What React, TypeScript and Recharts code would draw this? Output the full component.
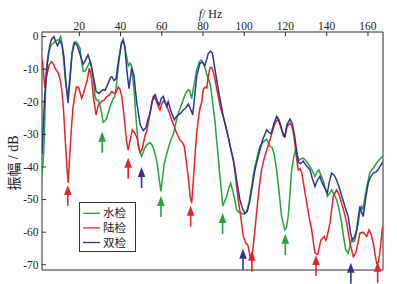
import React from 'react';
import { LineChart, Line, XAxis, YAxis, ReferenceArea, ReferenceDot, Legend, Label } from 'recharts';

const FREQ_DOMAIN: [number, number] = [1.9, 167.3];
const DB_DOMAIN: [number, number] = [-71.6, 1.4];
const freqTicks = [20, 40, 60, 80, 100, 120, 140, 160];
const dbTicks = [0, -10, -20, -30, -40, -50, -60, -70];

const seriesNames = ['水检', '陆检', '双检'];
const seriesColors = ['#22a53c', '#e4232b', '#2c3592'];

// [frequency Hz, amplitude dB]
const water: [number, number][] = [
  [1.9, -43], [2.8, -35], [3.5, -20], [4, -10], [5, -5], [6.4, -2.5], [7.5, -2], [8.8, -1.2], [10, -1], [11, 0],
  [11.8, -3], [12.5, -8], [13.5, -15], [14.5, -18.5], [15.5, -12], [16.5, -5], [17.3, -2], [18, -1.5], [19, -2],
  [20.3, -3.5], [21.2, -8], [21.9, -10.7], [23, -10.5], [23.6, -9.7], [25.2, -7.7], [26, -9.5], [27, -14],
  [27.6, -18.4], [28.3, -19.5], [29.2, -19.5], [30, -21], [30.8, -23.5], [31.6, -26.3], [32.3, -26], [33.3, -25],
  [34.9, -21.5], [36.5, -19], [37.2, -18.5], [38, -15], [38.9, -9.2], [40, -3.5], [40.5, -2], [41.3, -0.8],
  [42.1, -3.5], [42.9, -6], [43.8, -9], [44.6, -8.2], [45.3, -9], [46.5, -16], [47.5, -25], [48.6, -33.7],
  [50.2, -36.8], [51.5, -34.5], [52.7, -33.2], [54.3, -32.5], [55.5, -33.5], [56.7, -35.8], [57.8, -39],
  [58.8, -44], [59.6, -47.5], [60.4, -43], [61.2, -39], [62.4, -36], [63.5, -33.5], [64.5, -31.5], [65.6, -30],
  [66.8, -26.5], [68, -23.5], [69.2, -21.5], [70.4, -19.4], [71.5, -17.5], [72.8, -16.3], [73.5, -16.5],
  [74.5, -19], [75.3, -16], [76.1, -13.3], [76.9, -10.2], [77.8, -8.5], [78.5, -7.5], [79.3, -7.2], [80.3, -8.5],
  [81.2, -10], [82, -12], [82.8, -13.2], [83.6, -15], [84.4, -19], [85, -22], [85.8, -26], [86.6, -31.7],
  [87.4, -37], [88.2, -42.9], [89, -48], [89.6, -52], [90.5, -50.5], [91.5, -49], [92.5, -46.5], [93.4, -45],
  [94.5, -47.5], [95.5, -50.5], [96.3, -53.2], [97.5, -54], [98.7, -54.2], [99.9, -54.5], [101.1, -54],
  [102.4, -50.5], [103.6, -46], [104.4, -42.5], [105.2, -39.9], [106.4, -36.5], [107.6, -33.7], [109, -32.5],
  [110.3, -31.7], [110.9, -31.5], [112.5, -33.7], [113.5, -34], [114.5, -36], [115.7, -40.9], [116.8, -47],
  [118.1, -55.2], [119.7, -59.3], [120.5, -58.5], [121.3, -55.2], [122.2, -48], [123, -40.9], [124, -37],
  [124.6, -35.3], [125.5, -36], [126.5, -38], [127.5, -37.5], [128.6, -37.3], [129.8, -38], [131, -39],
  [132.5, -40.5], [134.3, -42.9], [135.3, -41.5], [136.2, -40.9], [137.2, -42.5], [138.2, -44], [139.3, -46.5],
  [140.3, -49], [141.4, -48], [142.4, -47], [143.6, -48.5], [144.8, -50], [146, -53], [147.2, -57.2],
  [148.2, -61.5], [149.2, -65.4], [150.4, -66.4], [151.2, -64.5], [152, -62.4], [152.8, -63], [153.6, -62.5],
  [155.3, -57.2], [156.3, -53], [156.9, -52.1], [157.6, -53], [158.6, -49], [159.8, -45], [160.8, -42],
  [161.8, -40.9], [163, -40], [164.2, -38.8], [165.5, -37.8], [166.9, -36.8], [167.3, -36.5],
];

const land: [number, number][] = [
  [1.9, -7], [2.5, -10], [3.3, -15.8], [4.2, -12], [5.4, -8.7], [6.6, -7.7], [7.5, -8.5], [8.2, -9.7],
  [9.8, -11.2], [10.6, -13], [11.4, -15.8], [12.3, -22], [13.2, -32], [14, -40], [14.6, -44.8], [15.2, -38],
  [16.1, -28.6], [16.9, -22], [17.7, -18.4], [18.6, -15.5], [19.5, -15.5], [20.3, -17], [21.1, -18.9], [22, -17.5],
  [22.7, -15.8], [23.9, -13.3], [24.8, -9.7], [25.5, -11], [26, -13.3], [26.8, -18.4], [27.5, -21.5], [28.1, -24],
  [28.7, -22.5], [29.2, -21], [30.8, -19.9], [32, -19.5], [33.3, -18.4], [34.5, -18], [35.7, -16.9], [37.3, -17.6],
  [38.2, -16.5], [38.9, -15.5], [39.7, -16.2], [40.5, -18], [41.3, -22], [42.1, -27], [42.9, -32], [43.7, -34.8],
  [44.6, -32], [45.7, -28.6], [46.7, -29.5], [47.8, -30.7], [48.6, -33], [49.4, -35.5], [50.5, -34.5],
  [51.8, -30.5], [52.7, -29], [54.3, -23.5], [55.1, -20.5], [55.9, -18.4], [57.2, -19.5], [58.3, -21.5],
  [59.1, -22.5], [60.1, -20.5], [61.2, -19.4], [62.2, -20.8], [63.4, -23], [64.8, -25.5], [66, -27.5],
  [67.2, -29.6], [68.8, -31.7], [70, -32.5], [70.9, -33.7], [72, -38.8], [73, -44], [73.7, -49], [74.5, -51.1],
  [75.3, -44], [76.1, -36.8], [76.9, -30], [77.7, -25.5], [78.5, -22], [79.3, -20.4], [80.1, -16.3], [81, -15.5],
  [81.8, -15.8], [82.6, -12], [83.4, -9.5], [84.2, -9.5], [84.8, -10.5], [85.6, -12.5], [86.6, -16], [87.4, -18.4],
  [88.5, -22], [89.8, -24.5], [91, -27.5], [92.2, -30.7], [93.5, -34.5], [94.7, -37.8], [95.5, -41.5], [96.3, -46],
  [97.3, -51], [98.3, -55.2], [99.5, -61.3], [100.8, -63.4], [101.8, -64], [102.8, -67.5], [103.6, -68.5],
  [104.4, -64], [105.2, -59.3], [106, -54], [106.8, -49], [107.6, -44.5], [108.4, -40.9], [109.6, -37.5],
  [110.9, -34.8], [112.5, -31.7], [113.7, -29], [114.9, -26.6], [115.7, -25.8], [116.5, -25.5], [117.6, -27.5],
  [118.6, -29.5], [119.7, -30.7], [120.8, -27.5], [122.2, -26.6], [123.2, -27.5], [124.2, -31], [125.2, -36.5],
  [126.2, -40.9], [127, -40.5], [127.8, -41.5], [129, -46], [130.3, -51.1], [131.5, -55.5], [132.7, -59.3],
  [133.5, -63], [134.3, -66.4], [135.6, -66.9], [136.4, -64.5], [137.2, -62.4], [138.8, -61.3], [139.6, -62.5],
  [140.3, -61], [141.6, -57.2], [142.4, -53], [143.2, -49], [144.8, -47], [146, -48.5], [147.2, -51.1],
  [148.5, -54], [149.7, -57.2], [151.3, -63.4], [152.1, -65.5], [152.9, -67.5], [154, -66.5], [155.1, -63.5],
  [156.1, -60.3], [157.7, -60], [159.4, -61.3], [160.5, -59.3], [161.5, -60.5], [162.6, -63.4], [163.5, -67],
  [164.2, -69.5], [165.1, -69.2], [165.8, -66], [166.9, -59.3], [167.3, -58],
];

const dual: [number, number][] = [
  [1.9, -36], [3.2, -18.4], [4.5, -8.2], [5.6, -3], [6.4, -1], [7.7, 0], [8.5, -1.5], [9.4, -2.8], [10.6, -1.2],
  [11.5, -2.5], [12.5, -6], [13.5, -14], [14.5, -20.4], [15.5, -13], [16.5, -5], [17.7, -2], [18.8, -2.5],
  [19.9, -4.5], [21.8, -8.5], [22.8, -7.5], [24.2, -5.6], [25.5, -8], [26.6, -11.5], [28.2, -16.9], [29.5, -17.5],
  [30.5, -16.8], [31.5, -16.3], [32.5, -16.5], [33.9, -14.5], [35.2, -12.5], [35.8, -12.3], [36.8, -13.5],
  [37.8, -13], [39, -7.5], [40.5, -2], [41.2, -1.2], [42.1, -3], [43, -10], [44.1, -16], [45.4, -9.5],
  [46.5, -12], [47.8, -20], [49.5, -27], [51, -28.8], [52.3, -28], [53.2, -25.5], [54.3, -23.5], [55.5, -19.5],
  [56.7, -17.8], [57.8, -19.8], [58.8, -21], [59.8, -19], [60.7, -18.4], [61.7, -20.5], [62.4, -21.5],
  [63.1, -19.9], [64.5, -23], [66.1, -25.5], [67.2, -24.5], [68, -24], [69.2, -23.5], [70.4, -22.5], [71.5, -22],
  [72.9, -20.7], [73.8, -22], [75, -24], [76, -18], [77, -12], [78.5, -8.2], [79.8, -7.8], [80.8, -9],
  [81.8, -7], [82.5, -5.2], [83.6, -4.5], [84.5, -5], [85.3, -8], [86.8, -14], [87.8, -17.5], [88.8, -21],
  [89.8, -24.5], [91, -27.5], [92.2, -30.7], [93.5, -34.5], [94.7, -37.8], [95.5, -40.5], [96.3, -44],
  [97.2, -47.5], [97.9, -50], [99, -52.5], [100.3, -54.2], [101.5, -53.5], [102.5, -51], [103.6, -47],
  [104.5, -43.5], [105.2, -40.9], [106.5, -37.5], [107.6, -34.8], [109, -31.5], [110.9, -28.6], [112, -29.5],
  [113, -29.8], [114.5, -26.5], [115.7, -24.5], [116.8, -25.5], [117.8, -27.5], [119, -30.5], [119.7, -30.7],
  [120.7, -27], [122.2, -25.3], [123.2, -26.5], [124.3, -30], [125.3, -34.5], [126.2, -38.5], [127.2, -39],
  [128.6, -38.2], [130, -39.5], [131.9, -40.9], [133, -43.5], [134.3, -46], [135.5, -44], [136.7, -42.9],
  [137.6, -44.5], [138.6, -46], [140.3, -48], [141.3, -44.5], [142.4, -41.9], [143.6, -42.5], [144.8, -44],
  [146.4, -47], [147.8, -50], [149, -52.5], [150.4, -55.2], [151.5, -60], [152.4, -62.4], [153.5, -61.5],
  [154.5, -59.3], [155.3, -55.5], [156.1, -52.1], [157, -54], [157.7, -55.2], [158.8, -50], [160.1, -45],
  [161.3, -43], [162.6, -41.9], [164, -41.5], [165.2, -40.5], [166.9, -38.8], [167.3, -38.5],
];

// arrow tips [frequency Hz, dB]
const arrowsWater: [number, number][] = [[31.1, -29.2], [59.6, -48.9], [89.5, -54.1], [119.9, -60.5]];
const arrowsLand: [number, number][] = [[14.4, -45.5], [43.7, -37.2], [74, -51.9], [103.7, -65.7], [134.8, -67], [164.7, -69.1]];
const arrowsDual: [number, number][] = [[50.2, -40], [99.4, -65.1], [151.7, -69.4]];

const toRows = (pts: [number, number][]) => pts.map(([f, db]) => ({ f, db }));

const SERIF = '"Liberation Serif", "Times New Roman", serif';
const CJK = '"Noto Sans CJK SC", sans-serif';
const AXIS_COLOR = '#2a2a2a';

const XTick = (props: any) => {
  const { x, y, payload } = props;
  return (
    <g>
      <text x={x} y={y} dy={-0.5} textAnchor="middle" fontFamily={SERIF} fontSize={11.5} fill="#222">
        {payload.value}
      </text>
      <line x1={x} x2={x} y1={y + 2} y2={y + 6} stroke={AXIS_COLOR} strokeWidth={1} />
    </g>
  );
};

const YTickLeft = (props: any) => {
  const { x, y, payload } = props;
  return (
    <g>
      <text x={x} y={y} dy="0.34em" textAnchor="end" fontFamily={SERIF} fontSize={11.5} fill="#222">
        {payload.value}
      </text>
      <line x1={x + 3.5} x2={x + 7.5} y1={y} y2={y} stroke={AXIS_COLOR} strokeWidth={1} />
    </g>
  );
};

const YTickRight = (props: any) => {
  const { x, y } = props;
  return <line x1={x - 4} x2={x} y1={y} y2={y} stroke={AXIS_COLOR} strokeWidth={1} />;
};

const makeArrow = (color: string) => (props: any) => {
  const { cx, cy } = props;
  if (cx == null || cy == null) return <g />;
  const head = 10;
  const half = 3.8;
  return (
    <g>
      <line x1={cx} x2={cx} y1={cy + head - 1} y2={cy + 21} stroke={color} strokeWidth={1.6} />
      <polygon points={`${cx},${cy} ${cx - half},${cy + head} ${cx + half},${cy + head}`} fill={color} />
    </g>
  );
};

const renderXLabel = (props: any) => {
  const vb = props.viewBox || { x: 0, y: 0, width: 0, height: 0 };
  return (
    <text x={vb.x + vb.width / 2 - 2} y={vb.y + 16} textAnchor="middle" fontFamily={SERIF} fontSize={12} fill="#222">
      <tspan fontStyle="italic">f</tspan>
      <tspan>/ Hz</tspan>
    </text>
  );
};

const renderYLabel = (props: any) => {
  const vb = props.viewBox || { x: 0, y: 0, width: 0, height: 0 };
  const cx = vb.x + 11;
  const cy = vb.y + vb.height / 2 + 12;
  return (
    <text x={cx} y={cy} transform={`rotate(-90 ${cx} ${cy})`} textAnchor="middle" dominantBaseline="central" fontSize={14} fill="#222">
      <tspan fontFamily={CJK}>振幅</tspan>
      <tspan fontFamily={SERIF}> / dB</tspan>
    </text>
  );
};

const renderLegend = () => (
  <svg width={57} height={50} style={{ display: 'block' }}>
    <rect x={0.5} y={0.5} width={56} height={49} fill="#fff" stroke="#333" strokeWidth={1} />
    {seriesNames.map((name, i) => {
      const y = 11.3 + i * 14.6;
      return (
        <g key={name}>
          <line x1={4} x2={21} y1={y} y2={y} stroke={seriesColors[i]} strokeWidth={1.3} />
          <text x={24} y={y} dy="0.36em" fontSize={11.5} fontFamily={CJK} fill="#222">
            {name}
          </text>
        </g>
      );
    })}
  </svg>
);

const seriesData = [toRows(water), toRows(land), toRows(dual)];
const arrowGroups = [arrowsWater, arrowsLand, arrowsDual];

export default function App() {
  return (
    <div style={{ position: 'absolute', left: 0, top: 0, background: '#fff' }}>
      <LineChart width={397} height={284} margin={{ top: 2, right: 14, bottom: 14, left: 2 }}>
        <XAxis
          xAxisId={0}
          dataKey="f"
          type="number"
          orientation="top"
          domain={FREQ_DOMAIN}
          ticks={freqTicks}
          allowDataOverflow
          height={30}
          tickLine={false}
          tickSize={0}
          tickMargin={2}
          axisLine={false}
          tick={<XTick />}
        >
          <Label content={renderXLabel} />
        </XAxis>
        <YAxis
          yAxisId={0}
          type="number"
          domain={DB_DOMAIN}
          ticks={dbTicks}
          allowDataOverflow
          width={40}
          tickLine={false}
          tickSize={0}
          tickMargin={3.5}
          axisLine={false}
          tick={<YTickLeft />}
        >
          <Label content={renderYLabel} />
        </YAxis>
        <YAxis
          yAxisId="r"
          orientation="right"
          type="number"
          domain={DB_DOMAIN}
          ticks={dbTicks}
          allowDataOverflow
          width={0}
          tickLine={false}
          tickSize={0}
          tickMargin={0}
          axisLine={false}
          tick={<YTickRight />}
        />
        <ReferenceArea
          x1={FREQ_DOMAIN[0]}
          x2={FREQ_DOMAIN[1]}
          y1={DB_DOMAIN[0]}
          y2={DB_DOMAIN[1]}
          fill="none"
          fillOpacity={0}
          stroke={AXIS_COLOR}
          strokeWidth={1}
          ifOverflow="visible"
        />
        {seriesData.map((rows, i) => (
          <Line
            key={seriesNames[i]}
            data={rows}
            dataKey="db"
            name={seriesNames[i]}
            type="linear"
            stroke={seriesColors[i]}
            strokeWidth={1.5}
            dot={false}
            activeDot={false}
            isAnimationActive={false}
          />
        ))}
        {arrowGroups.map((group, gi) =>
          group.map(([f, db], j) => (
            <ReferenceDot
              key={`a-${gi}-${j}`}
              x={f}
              y={db}
              r={4}
              ifOverflow="visible"
              shape={makeArrow(seriesColors[gi])}
            />
          ))
        )}
        <Legend
          layout="horizontal"
          verticalAlign="middle"
          align="center"
          content={renderLegend}
          wrapperStyle={{ left: 79, top: 202, width: 57, height: 50 }}
        />
      </LineChart>
    </div>
  );
}
